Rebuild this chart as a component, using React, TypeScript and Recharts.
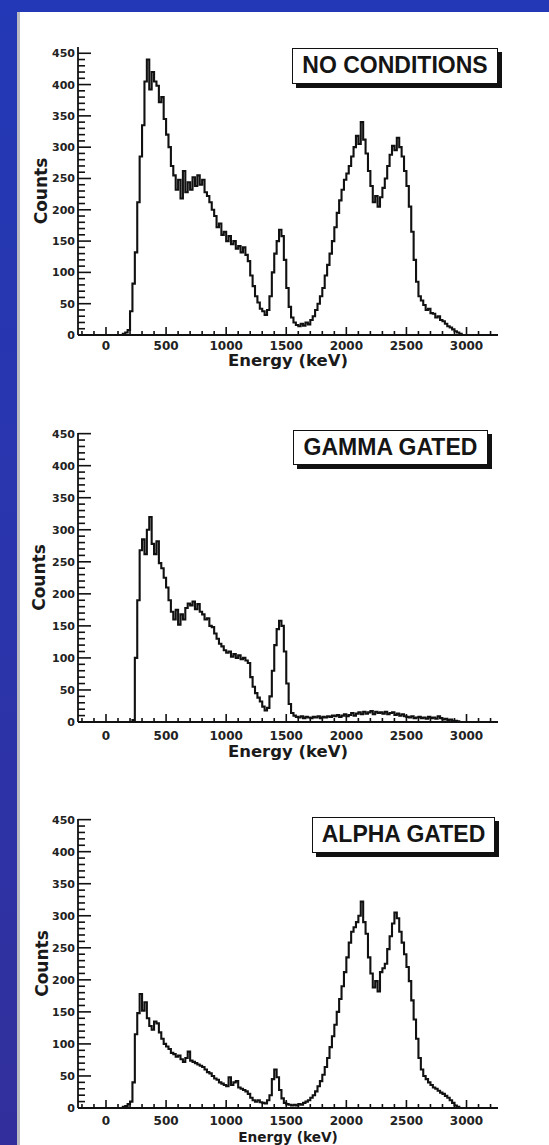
import React from 'react';
import { LineChart, Line, XAxis, YAxis, Label } from 'recharts';

// Histogram binning (keV)
const BIN_START_KEV = 100;
const BIN_WIDTH_KEV = 20;

// Counts per 20 keV bin, starting at 100 keV (10 bins per row = 200 keV)
const NO_CONDITIONS_COUNTS = [
  0, 0, 2, 4, 8, 38, 82, 132, 212, 285,
  335, 405, 440, 392, 420, 405, 398, 372, 380, 345,
  320, 300, 270, 255, 232, 248, 218, 262, 228, 244,
  232, 252, 238, 255, 240, 248, 228, 222, 212, 200,
  190, 172, 178, 160, 165, 150, 158, 145, 150, 138,
  142, 132, 140, 128, 118, 95, 78, 62, 52, 42,
  38, 32, 40, 62, 100, 130, 150, 168, 158, 120,
  75, 45, 28, 20, 16, 14, 18, 15, 20, 17,
  24, 30, 40, 50, 62, 75, 95, 112, 130, 150,
  172, 195, 215, 232, 248, 258, 270, 285, 300, 318,
  305, 340, 312, 290, 262, 238, 212, 222, 205, 220,
  235, 250, 270, 288, 302, 295, 315, 300, 285, 262,
  238, 205, 165, 120, 85, 62, 55, 48, 40, 42,
  35, 34, 28, 30, 24, 22, 18, 14, 12, 9,
  6, 4, 2, 0, 0, 0, 0, 0, 0, 0,
];

const GAMMA_GATED_COUNTS = [
  0, 0, 0, 0, 0, 0, 3, 100, 190, 268,
  285, 262, 300, 320, 278, 262, 282, 248, 240, 225,
  210, 190, 172, 160, 175, 152, 168, 160, 178, 185,
  182, 188, 176, 184, 172, 168, 160, 162, 150, 148,
  138, 130, 122, 118, 112, 108, 110, 102, 106, 100,
  104, 98, 100, 96, 92, 70, 55, 45, 38, 32,
  24, 18, 22, 40, 80, 120, 145, 158, 150, 110,
  60, 28, 14, 10, 8, 7, 9, 6, 8, 7,
  6, 8, 7, 9, 6, 8, 7, 9, 8, 10,
  9, 11, 8, 10, 12, 9, 11, 14, 10, 13,
  15, 12, 16, 13, 15, 17, 12, 16, 14, 15,
  13, 16, 12, 14, 15, 11, 13, 10, 12, 9,
  8, 7, 9, 6, 7, 8, 6, 7, 5, 8,
  6, 7, 5, 9, 6, 4, 5, 3, 4, 2,
  2, 1, 0, 0, 0, 0, 0, 0, 0, 0,
];

const ALPHA_GATED_COUNTS = [
  0, 0, 2, 3, 6, 10, 40, 115, 148, 178,
  152, 165, 140, 128, 122, 135, 132, 118, 108, 100,
  96, 92, 86, 84, 80, 82, 76, 72, 78, 88,
  74, 72, 70, 68, 66, 64, 60, 56, 54, 50,
  46, 44, 40, 38, 36, 34, 48, 36, 40, 42,
  32, 30, 28, 26, 22, 16, 12, 10, 12, 9,
  8, 7, 12, 20, 45, 60, 48, 28, 15, 8,
  6, 5, 4, 5, 4, 6, 5, 8, 10, 12,
  16, 20, 26, 34, 42, 52, 64, 78, 95, 112,
  130, 150, 170, 190, 212, 235, 258, 275, 282, 290,
  300, 322, 290, 272, 235, 210, 188, 198, 182, 212,
  218, 225, 248, 268, 288, 305, 296, 275, 258, 240,
  220, 198, 168, 138, 108, 78, 60, 50, 45, 40,
  36, 32, 30, 27, 24, 22, 19, 16, 12, 8,
  4, 2, 0, 0, 0, 0, 0, 0, 0, 0,
];

// Axis ticks
const X_TICK_LABELS = [0, 500, 1000, 1500, 2000, 2500, 3000];
const X_MINOR_STEP = 100;
const Y_TICK_LABELS = [0, 50, 100, 150, 200, 250, 300, 350, 400, 450];
const Y_MINOR_STEP = 10;

const X_DOMAIN: [number, number] = [-233, 3262];

const stepTicks = (from: number, to: number, step: number) => {
  const out: number[] = [];
  for (let v = from; v <= to; v += step) out.push(v);
  return out;
};
const X_TICKS = stepTicks(-200, 3200, X_MINOR_STEP);
const Y_TICKS = stepTicks(0, 450, Y_MINOR_STEP);

const toHistogram = (counts: number[]) => {
  const rows = counts.map((c, i) => ({ e: BIN_START_KEV + i * BIN_WIDTH_KEV, c }));
  rows.push({ e: BIN_START_KEV + counts.length * BIN_WIDTH_KEV, c: counts[counts.length - 1] });
  return rows;
};

const TICK_FONT = '"DejaVu Sans", Verdana, sans-serif';
const TITLE_FONT = '"Liberation Sans", Arial, Helvetica, sans-serif';
const INK = '#111';

const XTick = (props: any) => {
  const { x, y, payload, labelDy } = props;
  const v = payload.value as number;
  const major = X_TICK_LABELS.includes(v);
  return (
    <g>
      <line x1={x} x2={x} y1={y} y2={y - (major ? 8 : 4)} stroke={INK} strokeWidth={1.6} />
      {major && (
        <text x={x} y={y + labelDy} textAnchor="middle" fontFamily={TICK_FONT} fontWeight="bold" fontSize={12} fill="#222">
          {v}
        </text>
      )}
    </g>
  );
};

const YTick = (props: any) => {
  const { x, y, payload } = props;
  const v = payload.value as number;
  const major = Y_TICK_LABELS.includes(v);
  return (
    <g>
      <line x1={x} x2={x + (major ? 13 : 7)} y1={y} y2={y} stroke={INK} strokeWidth={1.6} />
      {major && (
        <text x={x - 3} y={y + 4} textAnchor="end" fontFamily={TICK_FONT} fontWeight="bold" fontSize={11} fill="#222">
          {v}
        </text>
      )}
    </g>
  );
};

type PanelProps = {
  title: string;
  counts: number[];
  top: number;
  plotTop: number;
  plotBottom: number;
  yMax: number;
  box: { left: number; top: number; width: number; height: number };
  tickDy: number;
  energyDy: number;
  energySize: number;
  countsX: number;
};

const PLOT_LEFT = 78;
const PLOT_RIGHT = 498;
const CHART_W = 549;
const Y_AXIS_W = 60;
const X_AXIS_H = 40;

const Panel = ({ title, counts, top, plotTop, plotBottom, yMax, box, tickDy, energyDy, energySize, countsX }: PanelProps) => {
  const height = plotBottom - top + X_AXIS_H + 5;
  const data = toHistogram(counts);
  const midY = (plotTop + plotBottom) / 2 - top;
  return (
    <>
      <div style={{ position: 'absolute', left: 0, top }}>
        <LineChart
          width={CHART_W}
          height={height}
          data={data}
          margin={{ top: plotTop - top, left: PLOT_LEFT - Y_AXIS_W, right: CHART_W - PLOT_RIGHT, bottom: 5 }}
        >
          <XAxis
            dataKey="e"
            type="number"
            domain={X_DOMAIN}
            ticks={X_TICKS}
            interval={0}
            height={X_AXIS_H}
            tickSize={0}
            tickMargin={0}
            tickLine={false}
            axisLine={{ stroke: INK, strokeWidth: 1.8 }}
            tick={(p: any) => <XTick {...p} labelDy={tickDy} />}
            allowDataOverflow
          >
            <Label
              content={(p: any) => {
                const vb = p.viewBox || {};
                return (
                  <text
                    x={PLOT_LEFT + (PLOT_RIGHT - PLOT_LEFT) / 2}
                    y={(vb.y ?? plotBottom - top) + energyDy}
                    textAnchor="middle"
                    fontFamily={TICK_FONT}
                    fontWeight="bold"
                    fontSize={energySize}
                    fill="#1a1a1a"
                  >
                    Energy (keV)
                  </text>
                );
              }}
            />
          </XAxis>
          <YAxis
            type="number"
            domain={[0, yMax]}
            ticks={Y_TICKS}
            interval={0}
            width={Y_AXIS_W}
            tickSize={0}
            tickMargin={0}
            tickLine={false}
            axisLine={{ stroke: INK, strokeWidth: 1.8 }}
            tick={(p: any) => <YTick {...p} />}
            allowDataOverflow
          >
            <Label
              content={() => (
                <text
                  x={countsX}
                  y={midY}
                  transform={`rotate(-90, ${countsX}, ${midY})`}
                  textAnchor="middle"
                  dominantBaseline="central"
                  fontFamily={TICK_FONT}
                  fontWeight="bold"
                  fontSize={17}
                  fill="#1a1a1a"
                >
                  Counts
                </text>
              )}
            />
          </YAxis>
          <Line
            type="stepAfter"
            dataKey="c"
            stroke={INK}
            strokeWidth={2.1}
            dot={false}
            activeDot={false}
            isAnimationActive={false}
          />
        </LineChart>
      </div>
      <div
        style={{
          position: 'absolute',
          left: box.left,
          top: box.top,
          width: box.width,
          height: box.height,
          boxSizing: 'border-box',
          border: '1.5px solid #111',
          background: '#fff',
          boxShadow: '4px 4px 0 #111',
          fontFamily: TITLE_FONT,
          fontWeight: 700,
          fontSize: 23,
          lineHeight: `${box.height - 3}px`,
          textAlign: 'center',
          color: '#151515',
          whiteSpace: 'nowrap',
        }}
      >
        {title}
      </div>
    </>
  );
};

export default function App() {
  return (
    <div
      style={{
        position: 'absolute',
        left: 0,
        top: 0,
        width: 549,
        height: 1145,
        overflow: 'hidden',
        background: 'linear-gradient(180deg, #2338b6 0%, #2a35ac 50%, #322f9c 100%)',
      }}
    >
      <div
        style={{
          position: 'absolute',
          left: 17,
          top: 12,
          right: 0,
          bottom: 0,
          background: '#fff',
          borderLeft: '3px solid #b9b9c2',
        }}
      />
      <Panel
        title="NO CONDITIONS"
        counts={NO_CONDITIONS_COUNTS}
        top={0}
        plotTop={47}
        plotBottom={335}
        yMax={460}
        box={{ left: 292, top: 48, width: 206, height: 36 }}
        tickDy={15}
        energyDy={31}
        energySize={16.5}
        countsX={41}
      />
      <Panel
        title="GAMMA GATED"
        counts={GAMMA_GATED_COUNTS}
        top={386}
        plotTop={433}
        plotBottom={722}
        yMax={451}
        box={{ left: 293, top: 430, width: 195, height: 35 }}
        tickDy={18}
        energyDy={35}
        energySize={16.5}
        countsX={39}
      />
      <Panel
        title="ALPHA GATED"
        counts={ALPHA_GATED_COUNTS}
        top={772}
        plotTop={819}
        plotBottom={1108}
        yMax={451}
        box={{ left: 312, top: 817, width: 183, height: 36 }}
        tickDy={17}
        energyDy={34}
        energySize={13.7}
        countsX={42}
      />
    </div>
  );
}
